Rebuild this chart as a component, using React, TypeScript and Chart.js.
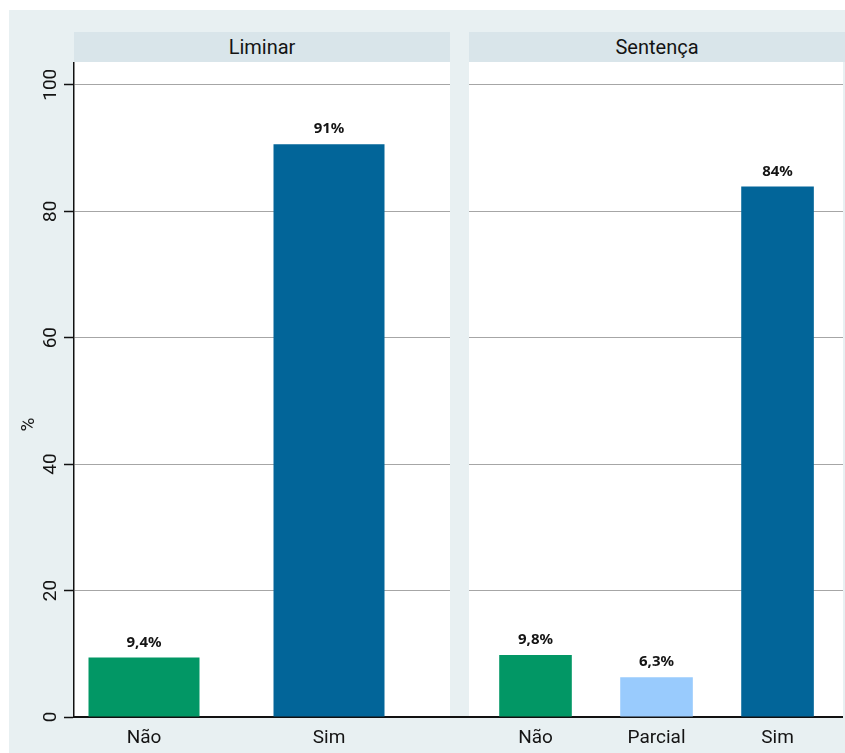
import React, { useEffect, useRef } from "react";
import { Chart, registerables } from "chart.js";

Chart.register(...registerables);

// ---- Data ----
const panelTitles = ["Liminar", "Sentença"];
const liminarCategories = ["Não", "Sim"];
const liminarValues = [9.4, 90.6];
const liminarLabels = ["9,4%", "91%"];
const sentencaCategories = ["Não", "Parcial", "Sim"];
const sentencaValues = [9.8, 6.3, 83.9];
const sentencaLabels = ["9,8%", "6,3%", "84%"];
const yTickValues = [0, 20, 40, 60, 80, 100];
const yAxisTitle = "%";

// ---- Styles ----
const categoryColors: Record<string, string> = {
  "Não": "#029765",
  "Parcial": "#99cbfd",
  "Sim": "#026599",
};
const FONT = "Roboto, 'Liberation Sans', Arial, sans-serif";
const LABEL_FONT = "'Noto Sans', 'Open Sans', sans-serif";
const TEXT = "#141414";
const GRID = "#a6a6a6";
const Y_MAX = 103.6;

type PanelProps = {
  categories: string[];
  values: number[];
  labels: string[];
  xMin: number;
  xMax: number;
  showYAxis: boolean;
  width: number;
  height: number;
  left: number;
  top: number;
};

function Panel(props: PanelProps) {
  const ref = useRef<HTMLCanvasElement | null>(null);
  useEffect(() => {
    const canvas = ref.current;
    if (!canvas) return;
    const { categories, values, labels, xMin, xMax, showYAxis } = props;

    const valueLabels = {
      id: "valueLabels",
      afterDatasetsDraw(chart: any) {
        const ctx = chart.ctx;
        const meta = chart.getDatasetMeta(0);
        ctx.save();
        ctx.font = `bold 15px ${LABEL_FONT}`;
        ctx.fillStyle = TEXT;
        ctx.textAlign = "center";
        ctx.textBaseline = "alphabetic";
        meta.data.forEach((el: any, i: number) => {
          ctx.fillText(labels[i], el.x, el.y - 11);
        });
        ctx.restore();
      },
    };

    const yLabels = {
      id: "yLabels",
      afterDraw(chart: any) {
        if (!showYAxis) return;
        const ctx = chart.ctx;
        const scale = chart.scales.y;
        ctx.save();
        ctx.font = `19px ${FONT}`;
        ctx.fillStyle = TEXT;
        ctx.textAlign = "center";
        ctx.textBaseline = "alphabetic";
        yTickValues.forEach((v) => {
          const py = scale.getPixelForValue(v);
          ctx.save();
          ctx.translate(scale.right - 18.5, py);
          ctx.rotate(-Math.PI / 2);
          ctx.fillText(String(v), 0, 0);
          ctx.restore();
        });
        // axis title
        ctx.save();
        ctx.textBaseline = "middle";
        ctx.translate(29.5, 424.5 - 62);
        ctx.rotate(-Math.PI / 2);
        ctx.fillText(yAxisTitle, 0, 0);
        ctx.restore();
        ctx.restore();
      },
    };

    const chart = new Chart(canvas, {
      type: "bar",
      data: {
        datasets: [
          {
            data: values.map((v, i) => ({ x: i, y: v })),
            backgroundColor: categories.map((c) => categoryColors[c]),
            borderWidth: 0,
            categoryPercentage: 1,
            barPercentage: 0.6,
          },
        ],
      },
      options: {
        responsive: false,
        animation: false,
        devicePixelRatio: 1,
        layout: { padding: 0 },
        plugins: {
          legend: { display: false },
          tooltip: { enabled: false },
          title: { display: false },
        },
        scales: {
          x: {
            type: "linear",
            min: xMin,
            max: xMax,
            offset: false,
            afterBuildTicks: (s: any) => {
              s.ticks = categories.map((_, i) => ({ value: i }));
            },
            afterFit: (s: any) => {
              s.height = 36;
            },
            grid: { display: false, drawTicks: false },
            border: { display: true, color: "#111", width: 2 },
            ticks: {
              autoSkip: false,
              maxRotation: 0,
              padding: 10,
              color: TEXT,
              font: { family: FONT, size: 19 },
              callback: (value: any) => categories[Math.round(Number(value))] ?? "",
            },
          },
          y: {
            type: "linear",
            min: 0,
            max: Y_MAX,
            afterBuildTicks: (s: any) => {
              s.ticks = yTickValues.map((v) => ({ value: v }));
            },
            afterFit: (s: any) => {
              s.width = showYAxis ? 74 : 0;
            },
            ticks: { display: false },
            grid: {
              color: GRID,
              lineWidth: 1,
              drawTicks: showYAxis,
              tickLength: 10,
              tickColor: "#111",
              tickWidth: 1.5,
            },
            border: { display: showYAxis, color: "#111", width: 1.5 },
          },
        },
      },
      plugins: [valueLabels, yLabels],
    } as any);

    let alive = true;
    if ((document as any).fonts?.ready) {
      (document as any).fonts.ready.then(() => {
        if (alive) chart.update();
      });
    }
    return () => {
      alive = false;
      chart.destroy();
    };
  }, []);

  return (
    <canvas
      ref={ref}
      width={props.width}
      height={props.height}
      style={{
        position: "absolute",
        left: props.left,
        top: props.top,
        width: props.width,
        height: props.height,
      }}
    />
  );
}

const headerStyle: React.CSSProperties = {
  position: "absolute",
  top: 32,
  height: 30,
  lineHeight: "30px",
  background: "#d9e5ea",
  textAlign: "center",
  fontFamily: FONT,
  fontSize: 20,
  color: TEXT,
};

export default function App() {
  return (
    <div
      style={{
        position: "absolute",
        left: 0,
        top: 0,
        width: 845,
        height: 753,
        background: "#ffffff",
        overflow: "hidden",
      }}
    >
      <div style={{ position: "absolute", left: 9, top: 10, width: 836, height: 743, background: "#e8f0f2" }} />
      <div style={{ ...headerStyle, left: 74, width: 376 }}>{panelTitles[0]}</div>
      <div style={{ ...headerStyle, left: 469, width: 376 }}>{panelTitles[1]}</div>
      <div style={{ position: "absolute", left: 74, top: 62, width: 376, height: 655, background: "#fff" }} />
      <div style={{ position: "absolute", left: 469, top: 62, width: 374, height: 655, background: "#fff" }} />
      <div style={{ position: "absolute", left: 450, top: 716, width: 19, height: 2, background: "#111" }} />
      <Panel
        categories={liminarCategories}
        values={liminarValues}
        labels={liminarLabels}
        xMin={-0.3784}
        xMax={1.654}
        showYAxis={true}
        left={0}
        top={62}
        width={450}
        height={691}
      />
      <Panel
        categories={sentencaCategories}
        values={sentencaValues}
        labels={sentencaLabels}
        xMin={-0.5496}
        xMax={2.541}
        showYAxis={false}
        left={469}
        top={62}
        width={374}
        height={691}
      />
    </div>
  );
}
